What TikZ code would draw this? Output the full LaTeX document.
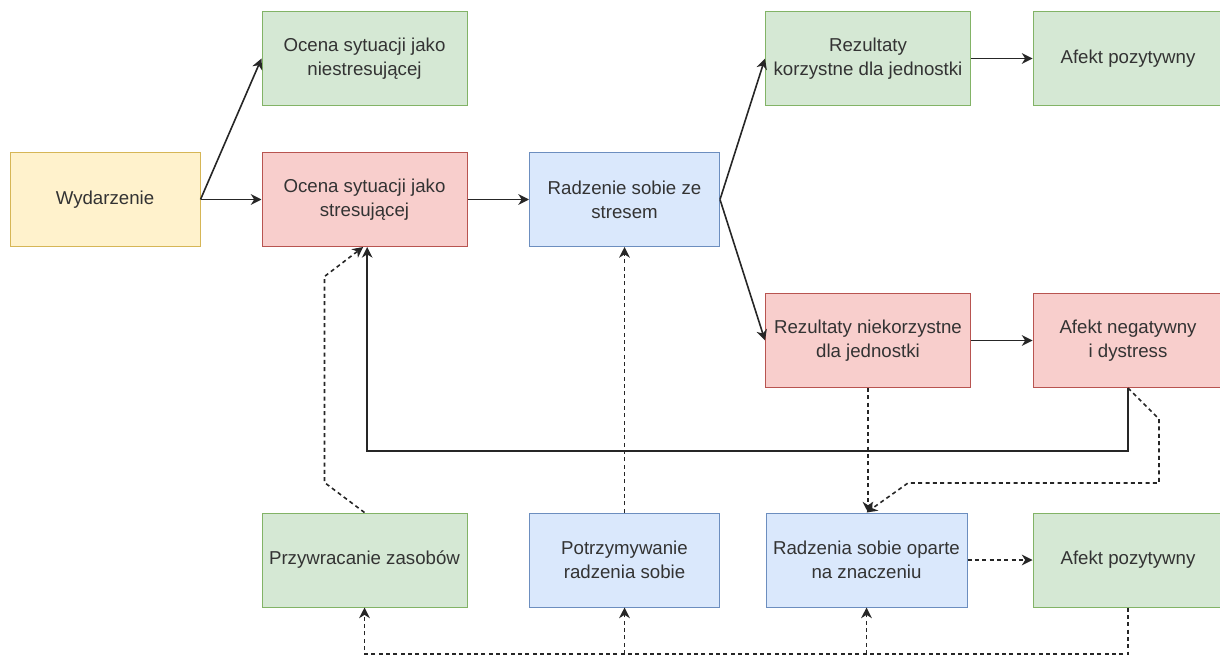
\documentclass[tikz,border=0pt]{standalone}
\usepackage{fontspec}
\setmainfont{Liberation Sans}
\usetikzlibrary{arrows.meta}
\definecolor{grfill}{HTML}{D5E8D4}
\definecolor{grline}{HTML}{82B366}
\definecolor{redfill}{HTML}{F8CECC}
\definecolor{redline}{HTML}{B85450}
\definecolor{blufill}{HTML}{DAE8FC}
\definecolor{bluline}{HTML}{6C8EBF}
\definecolor{yelfill}{HTML}{FFF2CC}
\definecolor{yelline}{HTML}{D6B656}

\begin{document}
\begin{tikzpicture}
      [x=0.75pt,y=-0.75pt,>={Stealth[length=8pt,width=8pt,inset=2.5pt]},
        box/.style={draw,line width=0.75pt,align=center,minimum height=70.5pt,
          font=\fontsize{14}{18}\selectfont,text=black!80},
        wide/.style={box,minimum width=153.75pt},
        narrow/.style={box,minimum width=142.5pt},
        grbox/.style={fill=grfill,draw=grline},
        redbox/.style={fill=redfill,draw=redline},
        blubox/.style={fill=blufill,draw=bluline},
        yelbox/.style={fill=yelfill,draw=yelline},
        conn/.style={->,line width=1.2pt,draw=black!85},
        dconn/.style={conn,dash pattern=on 3pt off 2.5pt}]
      \clip (0,0) rectangle (1220,656);
      \useasboundingbox (0,0) rectangle (1220,656);
      \node[narrow,yelbox] (wyd) at (105,199.5) {Wydarzenie};
      \node[wide,grbox] (ocnie) at (364.5,58.5) {Ocena sytuacji jako\\niestresującej};
      \node[wide,redbox] (ocst) at (364.5,199.5) {Ocena sytuacji jako\\stresującej};
      \node[narrow,blubox] (radz) at (624.5,199.5) {Radzenie sobie ze\\stresem};
      \node[wide,grbox] (rezk) at (868,58.5) {Rezultaty\\korzystne dla jednostki};
      \node[narrow,grbox] (afp) at (1128,58.5) {Afekt pozytywny};
      \node[wide,redbox] (rezn) at (868,340.5) {Rezultaty niekorzystne\\dla jednostki};
      \node[narrow,redbox] (afn) at (1128,340.5) {Afekt negatywny\\i dystress};
      \node[wide,grbox] (przyw) at (364.5,560) {Przywracanie zasobów};
      \node[narrow,blubox] (potrz) at (624.5,560) {Potrzymywanie\\radzenia sobie};
      \node[wide,blubox,minimum width=150.75pt] (radzz) at (866.5,560) {Radzenia sobie oparte\\na znaczeniu};
      \node[narrow,grbox] (afp2) at (1128,560) {Afekt pozytywny};
      \coordinate (dol) at (0,654);
      \draw[conn] (wyd.east) -- (ocnie.west);
      \draw[conn] (wyd.east) -- (ocst.west);
      \draw[conn] (ocst.east) -- (radz.west);
      \draw[conn] (radz.east) -- (rezk.west);
      \draw[conn] (radz.east) -- (rezn.west);
      \draw[conn] (rezk.east) -- (afp.west);
      \draw[conn] (rezn.east) -- (afn.west);
      \draw[conn] (afn.south) -- ++(0,63) -| ([xshift=2pt]ocst.south);
      \draw[dconn] (przyw.north) -- ++(-40,-30) -- ++(0,-206) -- ([xshift=-1pt]ocst.south);
      \draw[dconn] (potrz.north) -- (radz.south);
      \draw[dconn] (rezn.south) -- (rezn.south |- radzz.north);
      \draw[dconn] (afn.south) -- ++(31,31) -- ++(0,64) -- ++(-251,0) -- (radzz.north);
      \draw[dconn] (radzz.east) -- (afp2.west);
      \draw[dconn] (afp2.south) -- (afp2.south |- dol) -| (przyw.south);
      \draw[dconn] (potrz.south |- dol) -- (potrz.south);
      \draw[dconn] (radzz.south |- dol) -- (radzz.south);
\end{tikzpicture}
\end{document}
